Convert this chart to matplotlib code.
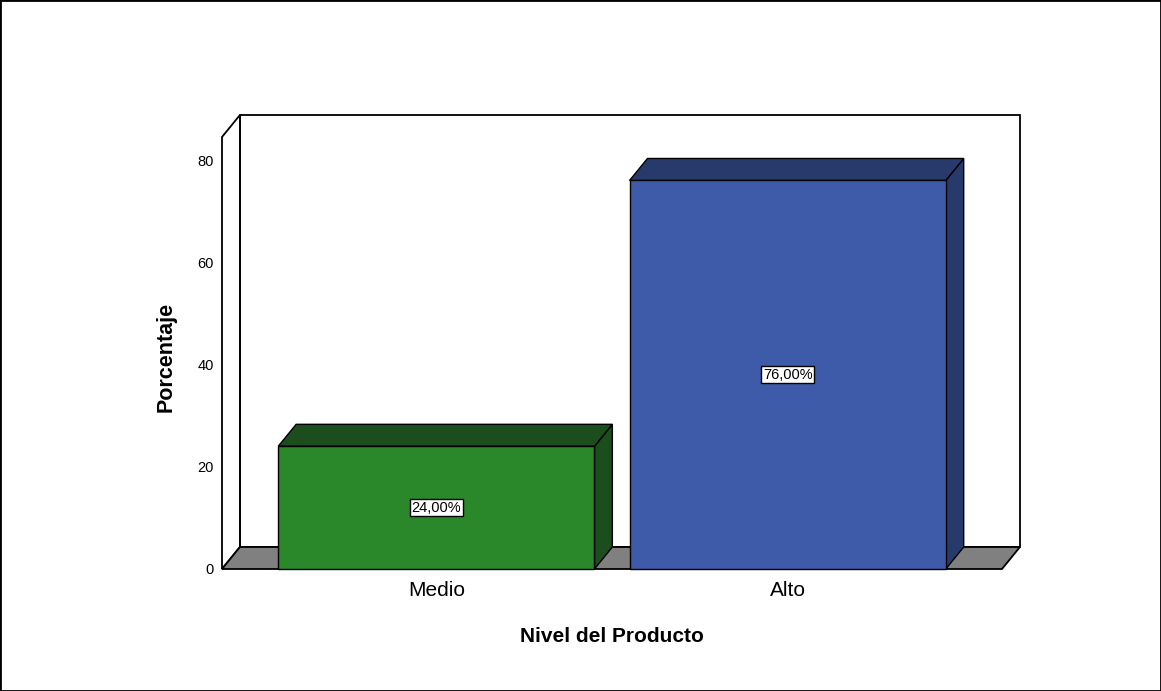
import matplotlib
matplotlib.use("Agg")
import matplotlib.pyplot as plt
from matplotlib.patches import Polygon, Rectangle

# data
categories = ["Medio", "Alto"]
percent = [24.0, 76.0]
value_labels = ["24,00%", "76,00%"]
y_ticks = [0, 20, 40, 60, 80]

front_colors = ["#2a872a", "#3e5ba9"]
dark_colors = ["#1c4d1c", "#283a6c"]

plt.rcParams["font.family"] = ["Liberation Sans", "DejaVu Sans"]

fig = plt.figure(figsize=(11.61, 6.91), dpi=100)
ax = fig.add_axes([222 / 1161, 122 / 691, 780 / 1161, 432 / 691])

x0, x1 = -0.61, 1.61
ytop = 84.5
dx, dy = 0.051, 4.3   # 3d depth in data units
bw = 0.90

ax.set_xlim(x0, x1)
ax.set_ylim(0, ytop)
for s in ax.spines.values():
    s.set_visible(False)

lw = 1.3
# back wall
ax.add_patch(Rectangle((x0 + dx, dy), x1 - x0, ytop, facecolor="white",
                       edgecolor="black", lw=lw, clip_on=False, zorder=1))
# left wall
ax.add_patch(Polygon([(x0, 0), (x0 + dx, dy), (x0 + dx, ytop + dy), (x0, ytop)],
                     closed=True, facecolor="white", edgecolor="black",
                     lw=lw, clip_on=False, zorder=2))
# floor
ax.add_patch(Polygon([(x0, 0), (x1, 0), (x1 + dx, dy), (x0 + dx, dy)],
                     closed=True, facecolor="#808080", edgecolor="black",
                     lw=lw, clip_on=False, zorder=2))

for i, (v, lab) in enumerate(zip(percent, value_labels)):
    l, r = i - bw / 2, i + bw / 2
    ax.add_patch(Polygon([(r, 0), (r + dx, dy), (r + dx, v + dy), (r, v)],
                         closed=True, facecolor=dark_colors[i], edgecolor="black",
                         lw=1, clip_on=False, zorder=3))
    ax.add_patch(Polygon([(l, v), (r, v), (r + dx, v + dy), (l + dx, v + dy)],
                         closed=True, facecolor=dark_colors[i], edgecolor="black",
                         lw=1, clip_on=False, zorder=3))
    ax.bar(i, v, width=bw, color=front_colors[i], edgecolor="black", lw=1,
           zorder=4, clip_on=False)
    ax.text(i, v / 2, lab, ha="center", va="center", fontsize=10.5, zorder=5,
            bbox=dict(boxstyle="square,pad=0.12", facecolor="white",
                      edgecolor="black", lw=1))

ax.set_yticks(y_ticks)
ax.set_yticklabels([str(t) for t in y_ticks], fontsize=10.5)
ax.tick_params(axis="y", length=0, pad=6)
ax.set_xticks(range(len(categories)))
ax.set_xticklabels(categories, fontsize=15)
ax.tick_params(axis="x", length=0, pad=9)

ax.set_xlabel("Nivel del Producto", fontsize=15, fontweight="bold")
ax.xaxis.set_label_coords(0.5, -0.135)
ax.set_ylabel("Porcentaje", fontsize=15.5, fontweight="bold")
ax.yaxis.set_label_coords(-0.058, 0.49)

# outer border
fig.patches.append(Rectangle((0, 0), 1, 1, transform=fig.transFigure,
                             fill=False, edgecolor="black", lw=2))

fig.savefig("out.png", dpi=100)
